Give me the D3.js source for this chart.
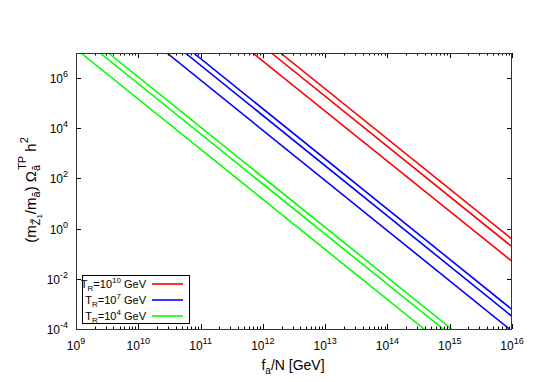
<!DOCTYPE html>
<html>
<head>
<meta charset="utf-8">
<script src="https://cdn.jsdelivr.net/npm/d3@7"></script>
<style>
  body { margin: 0; background: #fff; }
  text { font-family: "Liberation Sans", Arial, sans-serif; fill: #000; }
</style>
</head>
<body>
<svg id="chart" width="545" height="382"></svg>
<script>
// each curve: [fa/N at start, value at start], [fa/N at end, value at end]
const redLines = [
  [[6.87e11, 1e7], [1e16, 5.0e-2]],
  [[1.37e12, 1e7], [1e16, 1.9e-1]],
  [[1.92e12, 1e7], [1e16, 3.8e-1]]
]
const blueLines = [
  [[2.88e10, 1e7], [9.1e15, 1e-4]],
  [[5.68e10, 1e7], [1e16, 3.2e-4]],
  [[7.73e10, 1e7], [1e16, 6.0e-4]]
]
const greenLines = [
  [[1.2e9, 1e7], [3.88e14, 1e-4]],
  [[2.43e9, 1e7], [7.85e14, 1e-4]],
  [[3.31e9, 1e7], [1.07e15, 1e-4]]
]
const legendLabels = ['10', '7', '4']
const xTickExps = [9, 10, 11, 12, 13, 14, 15, 16]
const yTickExps = [-4, -2, 0, 2, 4, 6]

const series = [
  { lines: redLines, color: '#ff0000', exp: legendLabels[0] },
  { lines: blueLines, color: '#0000ff', exp: legendLabels[1] },
  { lines: greenLines, color: '#00ff00', exp: legendLabels[2] }
]

const pLeft = 76
const pRight = 512
const pTop = 53
const pBottom = 329

const svg = d3.select('#chart')

const x = d3.scaleLog().domain([1e9, 1e16]).range([pLeft, pRight])
const y = d3.scaleLog().domain([1e-4, 1e7]).range([pBottom, pTop])

svg.append('clipPath').attr('id', 'clip')
  .append('rect')
  .attr('x', pLeft).attr('y', pTop)
  .attr('width', pRight - pLeft).attr('height', pBottom - pTop)

const line = d3.line().x(d => x(d[0])).y(d => y(d[1]))

const plot = svg.append('g').attr('clip-path', 'url(#clip)')
series.forEach(s => {
  plot.selectAll(null)
    .data(s.lines)
    .enter().append('path')
    .attr('d', line)
    .attr('fill', 'none')
    .attr('stroke', s.color)
    .attr('stroke-width', 1.6)
})

// ticks (inside, mirrored)
const xMinor = []
for (let e = 9; e < 16; e++) {
  for (let m = 2; m <= 9; m++) xMinor.push(m * Math.pow(10, e))
}
const tickG = svg.append('g').attr('stroke', '#000').attr('stroke-width', 1)
xTickExps.forEach(e => {
  const px = Math.round(x(Math.pow(10, e))) + 0.5
  tickG.append('line').attr('x1', px).attr('x2', px).attr('y1', pBottom).attr('y2', pBottom - 5)
  tickG.append('line').attr('x1', px).attr('x2', px).attr('y1', pTop).attr('y2', pTop + 5)
})
xMinor.forEach(v => {
  const px = Math.round(x(v)) + 0.5
  tickG.append('line').attr('x1', px).attr('x2', px).attr('y1', pBottom).attr('y2', pBottom - 2.5)
  tickG.append('line').attr('x1', px).attr('x2', px).attr('y1', pTop).attr('y2', pTop + 2.5)
})
yTickExps.forEach(e => {
  const py = Math.round(y(Math.pow(10, e))) + 0.5
  tickG.append('line').attr('x1', pLeft).attr('x2', pLeft + 5).attr('y1', py).attr('y2', py)
  tickG.append('line').attr('x1', pRight).attr('x2', pRight - 5).attr('y1', py).attr('y2', py)
})

// frame
svg.append('rect')
  .attr('x', pLeft + 0.5).attr('y', pTop + 0.5)
  .attr('width', pRight - pLeft - 1).attr('height', pBottom - pTop)
  .attr('fill', 'none').attr('stroke', '#333').attr('stroke-width', 1)

// tick labels
xTickExps.forEach(e => {
  const t = svg.append('text')
    .attr('x', x(Math.pow(10, e)))
    .attr('y', 350)
    .attr('text-anchor', 'middle')
    .style('font-size', '12px')
  t.append('tspan').text('10')
  t.append('tspan').attr('dy', -6).style('font-size', '9px').text(e)
})
yTickExps.forEach(e => {
  const t = svg.append('text')
    .attr('x', 68)
    .attr('y', y(Math.pow(10, e)) + 5)
    .attr('text-anchor', 'end')
    .style('font-size', '12px')
  t.append('tspan').text('10')
  t.append('tspan').attr('dy', -6).style('font-size', '9px').text(e)
})

// axis titles
const xt = svg.append('text')
  .attr('x', 293).attr('y', 370)
  .attr('text-anchor', 'middle')
  .style('font-size', '14px')
xt.append('tspan').text('f')
xt.append('tspan').attr('dy', 4).style('font-size', '10px').text('a')
xt.append('tspan').attr('dy', -4).text('/N [GeV]')

const yt = svg.append('text')
  .attr('transform', 'translate(36,190) rotate(-90)')
  .attr('text-anchor', 'middle')
  .style('font-size', '15px')
yt.append('tspan').text('(m')
yt.append('tspan').attr('dy', 4).style('font-size', '11px').text('Z\u0303')
yt.append('tspan').attr('dy', 2).style('font-size', '8px').text('1')
yt.append('tspan').attr('dy', -6).text('/m')
yt.append('tspan').attr('dy', 4).style('font-size', '11px').text('a\u0303')
yt.append('tspan').attr('dy', -4).text(') \u03a9')
yt.append('tspan').attr('dy', 4).style('font-size', '11px').text('a\u0303')
yt.append('tspan').attr('dx', -5).attr('dy', -14).style('font-size', '11px').text('TP')
yt.append('tspan').attr('dy', 10).text(' h')
yt.append('tspan').attr('dy', -8).style('font-size', '11px').text('2')

// legend
svg.append('rect')
  .attr('x', 82.5).attr('y', 275.5).attr('width', 107).attr('height', 48)
  .attr('fill', '#fff').attr('stroke', '#000').attr('stroke-width', 1)
series.forEach((s, i) => {
  const cy = 284 + i * 16
  const t = svg.append('text')
    .attr('x', 146).attr('y', cy + 4)
    .attr('text-anchor', 'end')
    .style('font-size', '11px')
  t.append('tspan').text('T')
  t.append('tspan').attr('dy', 3).style('font-size', '8px').text('R')
  t.append('tspan').attr('dy', -3).text('=10')
  t.append('tspan').attr('dy', -5).style('font-size', '8px').text(s.exp)
  t.append('tspan').attr('dy', 5).text(' GeV')
  svg.append('line')
    .attr('x1', 152).attr('x2', 183).attr('y1', cy).attr('y2', cy)
    .attr('stroke', s.color).attr('stroke-width', 1.6)
})
</script>
</body>
</html>
